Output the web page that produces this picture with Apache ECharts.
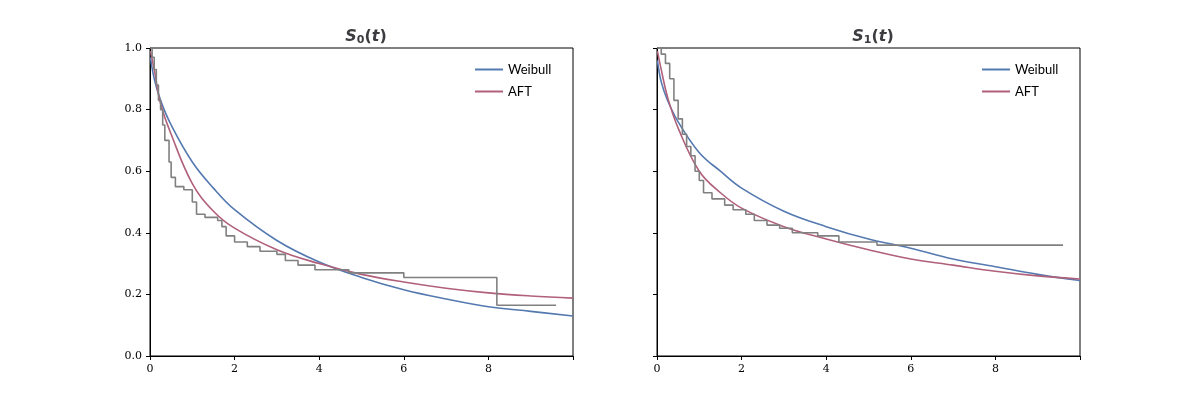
<!DOCTYPE html><html><head><meta charset="utf-8"><script src="https://cdn.jsdelivr.net/npm/echarts@6/dist/echarts.min.js"></script></head><body style="margin:0"><div id="c" style="width:1200px;height:400px"></div><script>
const t0 = [0.01,0.1,0.25,0.5,1,1.5,2,3,4,5,6,7,8,9,10];
const weib0 = [0.97,0.9,0.83,0.75,0.63,0.545,0.475,0.375,0.305,0.255,0.215,0.185,0.16,0.145,0.13];
const aft0 = [0.99,0.93,0.82,0.72,0.56,0.47,0.415,0.345,0.3,0.265,0.24,0.22,0.205,0.195,0.188];
const weib1 = [0.96,0.89,0.83,0.76,0.66,0.6,0.545,0.47,0.42,0.38,0.35,0.315,0.29,0.265,0.245];
const aft1 = [0.99,0.93,0.84,0.74,0.6,0.53,0.48,0.42,0.38,0.345,0.315,0.295,0.275,0.26,0.25];
const kmT0 = [0,0.05,0.1,0.15,0.2,0.25,0.3,0.35,0.45,0.5,0.6,0.8,1.0,1.1,1.3,1.6,1.7,1.8,2.0,2.3,2.6,3.0,3.2,3.5,3.9,4.7,6.0,8.2,9.6];
const kmS0 = [1.0,0.97,0.93,0.88,0.83,0.8,0.75,0.7,0.63,0.58,0.55,0.54,0.5,0.46,0.45,0.44,0.42,0.39,0.37,0.355,0.34,0.33,0.31,0.295,0.28,0.27,0.255,0.165,0.165];
const kmT1 = [0,0.1,0.2,0.3,0.4,0.5,0.6,0.7,0.8,0.9,1.0,1.1,1.3,1.6,1.8,2.1,2.3,2.6,2.9,3.2,3.8,4.3,5.2,9.6];
const kmS1 = [1.0,0.98,0.95,0.9,0.83,0.77,0.72,0.68,0.65,0.6,0.57,0.53,0.51,0.49,0.475,0.46,0.44,0.425,0.415,0.40,0.39,0.37,0.36,0.36];
const xTicks = [0,2,4,6,8];
const yTicks = [0,0.2,0.4,0.6,0.8,1.0];
const zip=(a,b)=>a.map((v,i)=>[v,b[i]]);
const C={blue:'#5479b0',red:'#b0607a',gray:'#808080'};
const tickFont={fontFamily:'DejaVu Serif',fontSize:11,color:'#000'};
function ax(i,labels){return [{type:'value',gridIndex:i,min:0,max:10,interval:2,axisLine:{lineStyle:{color:'#000'}},axisTick:{length:4,lineStyle:{color:'#000'}},splitLine:{show:false},axisLabel:Object.assign({formatter:v=>v==10?'':v},tickFont)},
 {type:'value',gridIndex:i,min:0,max:1,interval:0.2,axisLine:{show:true,lineStyle:{color:'#000'}},axisTick:{show:true,length:4,lineStyle:{color:'#000'}},splitLine:{show:false},axisLabel:Object.assign({show:labels,formatter:v=>v.toFixed(1)},tickFont)}];}
const a0=ax(0,true),a1=ax(1,false);
const ls=(w)=>({width:1.6});
const sers=[];
[[weib0,aft0,kmT0,kmS0],[weib1,aft1,kmT1,kmS1]].forEach((d,i)=>{
 sers.push({name:'Weibull',type:'line',xAxisIndex:i,yAxisIndex:i,smooth:0.4,showSymbol:false,data:zip(t0,d[0]),lineStyle:{color:C.blue,width:1.6},itemStyle:{color:C.blue}});
 sers.push({name:'AFT',type:'line',xAxisIndex:i,yAxisIndex:i,smooth:0.4,showSymbol:false,data:zip(t0,d[1]),lineStyle:{color:C.red,width:1.6},itemStyle:{color:C.red}});
 sers.push({name:'KM',type:'line',step:'end',xAxisIndex:i,yAxisIndex:i,showSymbol:false,data:zip(d[2],d[3]),lineStyle:{color:C.gray,width:1.6},itemStyle:{color:C.gray}});
});
const titleRich={s:{fontFamily:'DejaVu Sans',fontStyle:'italic',fontSize:16},b:{fontFamily:'DejaVu Sans',fontSize:11,padding:[8,0,0,0]},p:{fontFamily:'DejaVu Sans',fontSize:16}};
const leg=(l)=>({data:['Weibull','AFT'],left:l,top:58,orient:'vertical',itemWidth:28,itemHeight:2,itemGap:9,icon:'rect',textStyle:{fontFamily:'Lato',fontSize:13,color:'#000'}});
echarts.init(document.getElementById('c')).setOption({animation:false,
 title:[{text:'{s|S}{b|0}{p|(}{s|t}{p|)}',left:361,top:22,textAlign:'center',textStyle:{rich:titleRich}},{text:'{s|S}{b|1}{p|(}{s|t}{p|)}',left:868,top:22,textAlign:'center',textStyle:{rich:titleRich}}],
 legend:[Object.assign(leg(470),{}),Object.assign(leg(977),{})].map((l,i)=>l),
 grid:[{left:150,width:423,top:48,height:308,show:true,borderColor:'#000',borderWidth:1},{left:657,width:423,top:48,height:308,show:true,borderColor:'#000',borderWidth:1}],
 xAxis:[a0[0],a1[0]],yAxis:[a0[1],a1[1]],series:sers});
</script></body></html>
